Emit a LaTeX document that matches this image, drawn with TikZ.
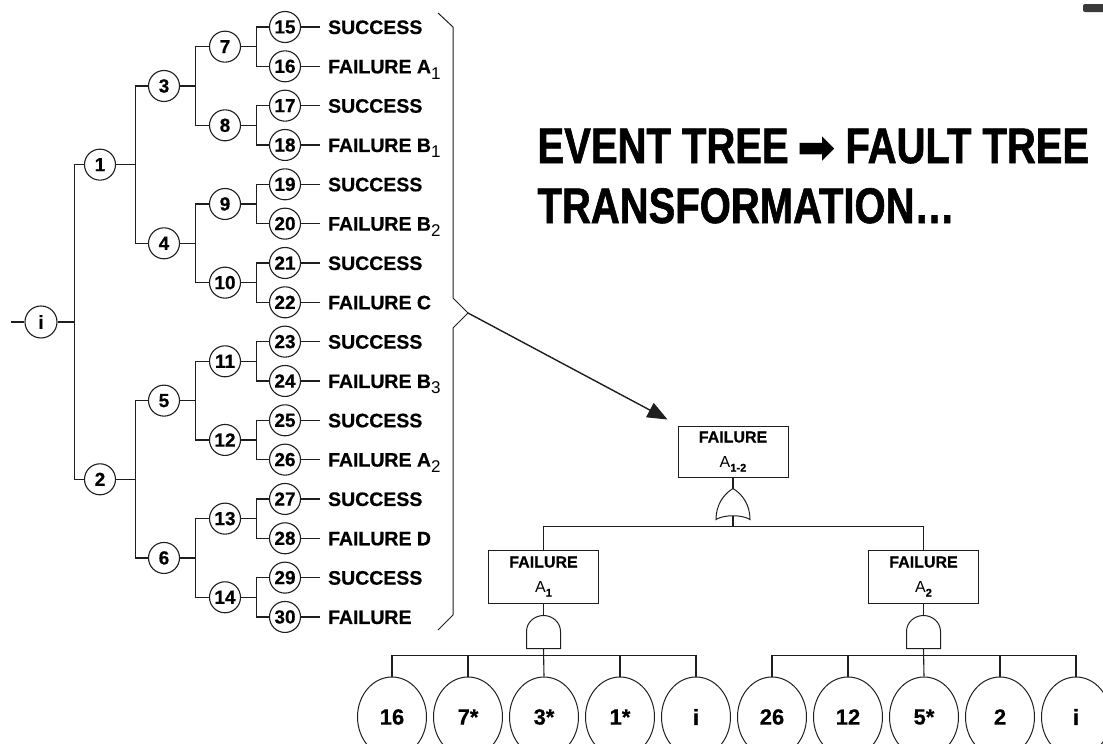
\documentclass[tikz,border=0pt]{standalone}
\usepackage{fontspec}
\setmainfont{Liberation Sans}[BoldFeatures={FakeBold=0.5}]
\newfontfamily\titlefont[FakeStretch=0.8,BoldFeatures={FakeBold=1.2}]{Liberation Sans}
\newfontfamily\arrowfont{DejaVu Sans}
\usepackage{tikz}
\usetikzlibrary{arrows.meta,calc,shapes.geometric}
\definecolor{ink}{HTML}{1E1E1E}
\definecolor{cornergray}{HTML}{3A3A3A}
% lowered subscripts as printed in the tree
\newcommand{\lowsub}[1]{\raisebox{-6pt}{\fontsize{17}{17}\selectfont\mdseries #1}}
\newcommand{\ftsub}[1]{\raisebox{-4pt}{\fontsize{11}{11}\selectfont\bfseries #1}}

\begin{document}
\begin{tikzpicture}[x=1pt,y=-1pt,line width=1.1pt,draw=ink,
    ev/.style={circle,draw=ink,fill=white,inner sep=0pt,minimum size=31pt,
      font=\fontsize{19}{19}\selectfont\bfseries},
    lf/.style={anchor=base west,inner xsep=8pt,inner ysep=0pt,
      font=\fontsize{19.5}{19.5}\selectfont\bfseries},
    fbox/.style={rectangle,draw=ink,line width=1pt,minimum width=110pt,inner sep=0pt,
      align=center,font=\fontsize{16}{25}\selectfont},
    fleaf/.style={ellipse,draw=ink,line width=1pt,minimum width=69pt,minimum height=80pt,
      inner sep=0pt,font=\fontsize{22}{22}\selectfont\bfseries},
    gate/.style={draw=ink,line width=1pt},
    ttl/.style={anchor=base west,inner sep=0pt,
      font=\titlefont\bfseries\fontsize{50}{50}\selectfont}]
  \useasboundingbox (0,0) rectangle (1103,744);
  \fill[cornergray,rounded corners=2pt] (1083,4) rectangle (1110,12);

  % event tree: outcomes
  \foreach \n/\lbl [count=\k from 0] in {15/SUCCESS, 16/{FAILURE A\lowsub{1}},
      17/SUCCESS, 18/{FAILURE B\lowsub{1}}, 19/SUCCESS, 20/{FAILURE B\lowsub{2}},
      21/SUCCESS, 22/FAILURE C, 23/SUCCESS, 24/{FAILURE B\lowsub{3}},
      25/SUCCESS, 26/{FAILURE A\lowsub{2}}, 27/SUCCESS, 28/FAILURE D,
      29/SUCCESS, 30/FAILURE} {
    \node[ev] (e\n) at (285,27+39.33*\k) {\n};
    \node[lf] (t\n) at ([xshift=18.5pt,yshift=-7pt]e\n.east) {\lbl};
    \draw (e\n.east) -- (e\n.east -| t\n.west);
  }
  % event tree: branch points
  \foreach \lo/\hi/\sh/\gap in {7/14/60/15.5, 3/6/61/15.5, 1/2/64/19.5} {
    \foreach \n in {\lo,...,\hi} {
      \pgfmathtruncatemacro{\ca}{2*\n+1}
      \pgfmathtruncatemacro{\cb}{2*\n+2}
      \node[ev,xshift=-\sh pt] (e\n) at ($(e\ca)!0.5!(e\cb)$) {\n};
      \draw (e\n.east) -- ++(\gap,0) coordinate (s\n) |- (e\ca.west);
      \draw (s\n) |- (e\cb.west);
    }
  }
  \node[ev,minimum size=32pt,xshift=-59pt] (e0) at ($(e1)!0.5!(e2)$) {i};
  \draw (e0.east) -- ++(17,0) coordinate (s0) |- (e1.west);
  \draw (s0) |- (e2.west);
  \draw (e0.west) -- ++(-13,0);

  % bracket over the outcomes
  \draw[line width=1pt] (438,13) -- (453,27) -- (453,298) -- (468,313) coordinate (tip)
    -- (453,328) -- (453,615) -- (438,630);

  % heading
  \node[ttl] (ttl1) at (537,163) {EVENT TREE\hspace{-2pt} {\arrowfont\fontsize{46}{46}\selectfont ➡}\hspace{-2pt} FAULT TREE};
  \node[ttl] (ttl2) at (537,223) {TRANSFORMATION…};

  % fault tree
  \node[fbox,minimum height=51pt] (fA12) at (733,451.5) {{\bfseries FAILURE}\\A\ftsub{1-2}};
  \node[fbox,minimum height=53pt] (fA1) at (543.5,576.5) {{\bfseries FAILURE}\\A\ftsub{1}};
  \node[fbox,minimum height=53pt] (fA2) at (923.5,576.5) {{\bfseries FAILURE}\\A\ftsub{2}};
  \draw[-{Triangle[length=20pt,width=16pt]},line width=1.4pt] (tip) -- ([xshift=-10pt,yshift=6pt]fA12.north west);

  % OR gate
  \coordinate (orT) at ([yshift=-11pt]fA12.south);
  \draw (fA12.south) -- (orT);
  \draw[gate] (orT) .. controls +(-10,6) and +(0,-14) .. ++(-17,31)
    .. controls +(8,-5) and +(-8,-5) .. ++(34,0)
    .. controls +(0,-14) and +(10,6) .. (orT);
  \draw (fA1.north) -- ++(0,-23) coordinate (barT) -- (barT -| fA2.north) -- (fA2.north);
  \draw (orT) ++(0,27) coordinate (orB) -- (orB |- barT);

  % basic events
  \foreach \lbl [count=\k] in {16,7*,3*,1*,i,26,12,5*,2,i}
    \node[fleaf] (b\k) at (392+76*\k-76,717) {\lbl};

  % AND gates
  \foreach \g/\a/\m/\z in {fA1/1/3/5, fA2/6/8/10} {
    \coordinate (and\g) at ([yshift=-12pt]\g.south);
    \draw (\g.south) -- (and\g);
    \draw[gate] (and\g) .. controls +(-9.4,0) and +(0,-8.8) .. ++(-17,16)
      -- ++(0,17) -- ++(34,0) -- ++(0,-17)
      .. controls +(0,-8.8) and +(9.4,0) .. (and\g);
    \draw (b\a.north) -- ++(0,-21) coordinate (bar\g) -- (bar\g -| b\z.north) -- (b\z.north);
    \draw (and\g) ++(0,33) -- (b\m.north);
  }
  \foreach \k in {2,4,7,9}
    \draw (b\k.north) -- ++(0,-21);
\end{tikzpicture}
\end{document}
